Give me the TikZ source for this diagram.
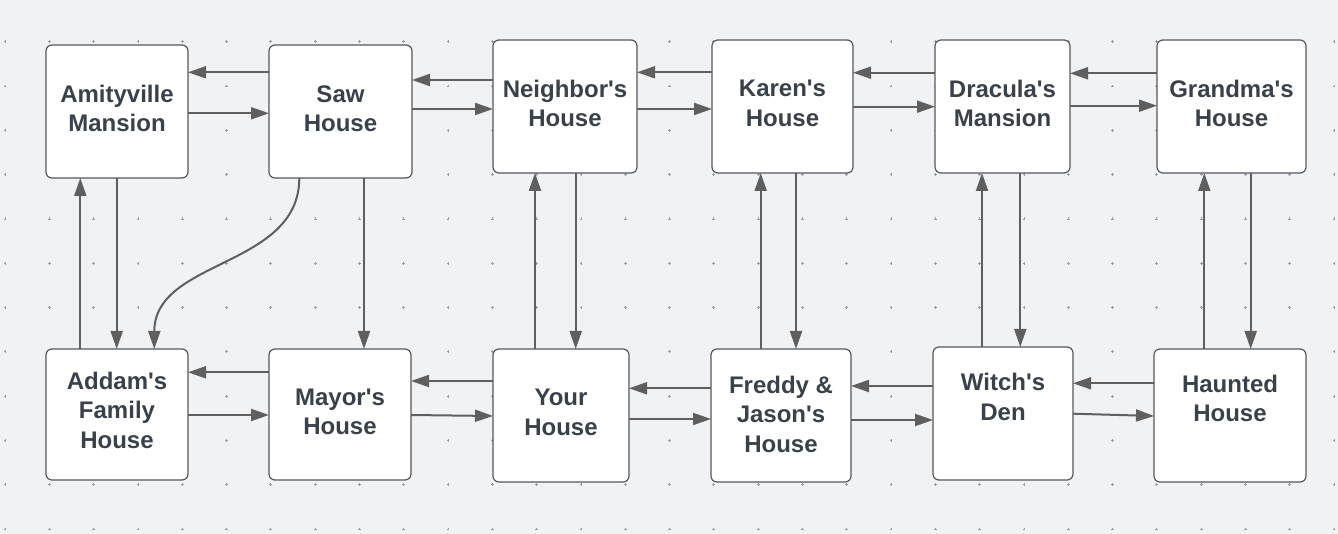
\documentclass[tikz,border=0pt]{standalone}
\usepackage{fontspec}
\setmainfont{Liberation Sans}
\usetikzlibrary{arrows.meta}
\newcommand{\apos}{\textquotesingle}
\definecolor{bg}{HTML}{F1F2F4}
\definecolor{dotc}{HTML}{9A9EA4}
\definecolor{edgec}{HTML}{5F5F5F}
\definecolor{boxc}{HTML}{55595E}
\definecolor{txtc}{HTML}{3A414A}
\tikzset{
  housebox/.style={draw=boxc, line width=1.2pt, fill=white, rounded corners=6pt,
    inner sep=0pt, outer sep=0pt},
  lbl/.style={font=\fontsize{24}{29.5}\selectfont\bfseries, text=txtc, align=center, inner sep=0pt},
  arr/.style={draw=edgec, line width=2pt, -{Triangle[length=18pt,width=12pt]}},
}
\begin{document}
\begin{tikzpicture}[x=1pt,y=-1pt]
\fill[bg] (0,0) rectangle (1338,534);
\useasboundingbox (0,0) rectangle (1338,534);
% dot grid
\foreach \i in {0,...,30}{
  \foreach \j in {0,...,11}{
    \pgfmathsetmacro{\px}{5+44.3*\i}
    \pgfmathsetmacro{\py}{41.7+44.3*\j}
    \draw[dotc, line width=0.7pt] (\px-1.4,\py) -- (\px+1.4,\py) (\px,\py-1.4) -- (\px,\py+1.4);
  }
}
% boxes
\node[housebox, minimum width=142pt, minimum height=133pt] (amity)  at (117,111.5) {};
\node[housebox, minimum width=143pt, minimum height=133pt] (saw)    at (340.5,111.5) {};
\node[housebox, minimum width=144pt, minimum height=133pt] (neigh)  at (565,106.5) {};
\node[housebox, minimum width=141pt, minimum height=133pt] (karen)  at (782.5,106.5) {};
\node[housebox, minimum width=135pt, minimum height=133pt] (drac)   at (1002.5,106.5) {};
\node[housebox, minimum width=149pt, minimum height=133pt] (grand)  at (1231.5,106.5) {};
\node[housebox, minimum width=142pt, minimum height=131pt] (addam)  at (117,414.5) {};
\node[housebox, minimum width=142pt, minimum height=131pt] (mayor)  at (340,414.5) {};
\node[housebox, minimum width=136pt, minimum height=133pt] (your)   at (561,415.5) {};
\node[housebox, minimum width=140pt, minimum height=133pt] (freddy) at (781,415.5) {};
\node[housebox, minimum width=140pt, minimum height=133pt] (witch)  at (1003,413.5) {};
\node[housebox, minimum width=152pt, minimum height=133pt] (haunt)  at (1230,415.5) {};
% labels
\node[lbl] (tamity)  at (117,108.5)   {Amityville\\Mansion};
\node[lbl] (tsaw)    at (340.5,108.5) {Saw\\House};
\node[lbl] (tneigh)  at (565,103.5)   {Neighbor\apos s\\House};
\node[lbl] (tkaren)  at (782.5,103.5) {Karen\apos s\\House};
\node[lbl] (tdrac)   at (1002.5,103.5){Dracula\apos s\\Mansion};
\node[lbl] (tgrand)  at (1231.5,103.5){Grandma\apos s\\House};
\node[lbl] (taddam)  at (117,410)     {Addam\apos s\\Family\\House};
\node[lbl] (tmayor)  at (340,412)     {Mayor\apos s\\House};
\node[lbl] (tyour)   at (561,412.5)   {Your\\House};
\node[lbl] (tfreddy) at (781,414)     {Freddy \&\\Jason\apos s\\House};
\node[lbl] (twitch)  at (1003,397)    {Witch\apos s\\Den};
\node[lbl] (thaunt)  at (1230,398.5)  {Haunted\\House};
% top row horizontal
\draw[arr] (saw.west |- 0,72.3) -- (amity.east |- 0,72.3);
\draw[arr] (amity.east |- 0,113.3) -- (saw.west |- 0,113.3);
\draw[arr] (neigh.west |- 0,80) -- (saw.east |- 0,80);
\draw[arr] (saw.east |- 0,109) -- (neigh.west |- 0,109);
\draw[arr] (karen.west |- 0,72.3) -- (neigh.east |- 0,72.3);
\draw[arr] (neigh.east |- 0,109) -- (karen.west |- 0,109);
\draw[arr] (drac.west |- 0,72.7) -- (karen.east |- 0,72.7);
\draw[arr] (karen.east |- 0,106.7) -- (drac.west |- 0,106.7);
\draw[arr] (grand.west |- 0,73.3) -- (drac.east |- 0,73.3);
\draw[arr] (drac.east |- 0,105.7) -- (grand.west |- 0,105.7);
% bottom row horizontal
\draw[arr] (mayor.west |- 0,372.3) -- (addam.east |- 0,372.3);
\draw[arr] (addam.east |- 0,415) -- (mayor.west |- 0,415);
\draw[arr] (your.west |- 0,381) -- (mayor.east |- 0,381);
\draw[arr] (mayor.east |- 0,415) -- (your.west |- 0,416);
\draw[arr] (freddy.west |- 0,388.3) -- (your.east |- 0,388.3);
\draw[arr] (your.east |- 0,419) -- (freddy.west |- 0,419);
\draw[arr] (witch.west |- 0,386) -- (freddy.east |- 0,386);
\draw[arr] (freddy.east |- 0,420) -- (witch.west |- 0,420);
\draw[arr] (haunt.west |- 0,383.3) -- (witch.east |- 0,383.3);
\draw[arr] (witch.east |- 0,413.7) -- (haunt.west |- 0,416);
% verticals
\draw[arr] (addam.north -| 80.3,0) -- (amity.south -| 80.3,0);
\draw[arr] (amity.south -| 116.7,0) -- (addam.north -| 116.7,0);
\draw[arr] (saw.south -| 299.3,0) .. controls (299.3,268) and (154.3,258.7) .. (addam.north -| 154.3,0);
\draw[arr] (saw.south -| 364,0) -- (mayor.north -| 364,0);
\draw[arr] (your.north -| 535,0) -- (neigh.south -| 535,0);
\draw[arr] (neigh.south -| 575.7,0) -- (your.north -| 575.7,0);
\draw[arr] (freddy.north -| 760.7,0) -- (karen.south -| 760.7,0);
\draw[arr] (karen.south -| 796,0) -- (freddy.north -| 796,0);
\draw[arr] (witch.north -| 982,0) -- (drac.south -| 982,0);
\draw[arr] (drac.south -| 1020.3,0) -- (witch.north -| 1020.3,0);
\draw[arr] (haunt.north -| 1204.3,0) -- (grand.south -| 1204.3,0);
\draw[arr] (grand.south -| 1250.7,0) -- (haunt.north -| 1250.7,0);
\end{tikzpicture}
\end{document}
